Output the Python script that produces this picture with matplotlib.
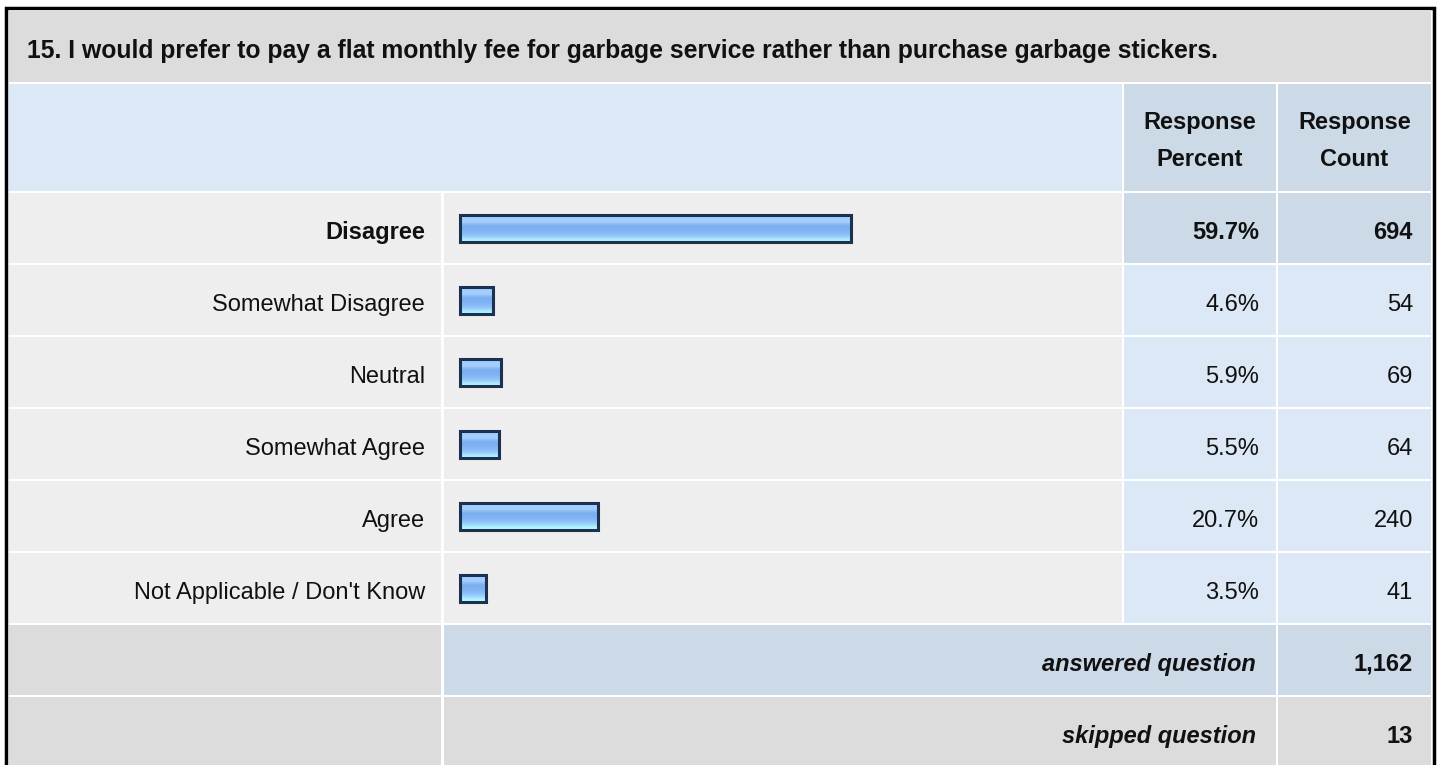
import matplotlib.pyplot as plt
import numpy as np
from matplotlib.patches import Rectangle
from matplotlib.colors import LinearSegmentedColormap

plt.rcParams['font.family'] = ['Liberation Sans', 'DejaVu Sans']

titulo = "15. I would prefer to pay a flat monthly fee for garbage service rather than purchase garbage stickers."
respuestas = ["Disagree", "Somewhat Disagree", "Neutral", "Somewhat Agree",
              "Agree", "Not Applicable / Don't Know"]
porcentajes = [59.7, 4.6, 5.9, 5.5, 20.7, 3.5]
conteos = [694, 54, 69, 64, 240, 41]
respondidas = 1162
omitidas = 13

W, H = 1440, 765
gris = "#dcdcdc"
gris_claro = "#eeeeee"
azul_claro = "#dce8f5"
azul = "#ccd9e6"
tinta = "#111111"
fs = 17

fig = plt.figure(figsize=(W / 100, H / 100), dpi=100)
ax = fig.add_axes([0, 0, 1, 1])
ax.set_xlim(0, W)
ax.set_ylim(H, 0)
ax.axis("off")


def celda(x0, x1, y0, y1, color):
    ax.add_patch(Rectangle((x0, y0), x1 - x0, y1 - y0, facecolor=color,
                           edgecolor="none", zorder=1))


def texto(x, y, s, ha="right", **kw):
    ax.text(x, y, s, fontsize=fs, ha=ha, va="baseline", color=tinta,
            zorder=3, **kw)


# columnas
c_lab = (9, 441)
c_bar = (444, 1122)
c_pct = (1124, 1276)
c_cnt = (1278, 1431)

# borde exterior
ax.add_patch(Rectangle((5.5, 7.5), 1428.5, 800, facecolor="white",
                       edgecolor="black", lw=2.5, zorder=0))

# titulo
celda(9, 1431, 10, 82, gris)
ax.text(27, 58, titulo, fontsize=17.8, fontweight="bold", va="baseline",
        ha="left", color=tinta, zorder=3)

# encabezado
celda(9, 1122, 84, 191, azul_claro)
celda(*c_pct, 84, 191, azul)
celda(*c_cnt, 84, 191, azul)
for cx, abajo in [((c_pct[0] + c_pct[1]) / 2, "Percent"),
                  ((c_cnt[0] + c_cnt[1]) / 2, "Count")]:
    texto(cx, 129, "Response", ha="center", fontweight="bold")
    texto(cx, 166, abajo, ha="center", fontweight="bold")

# degradado de barras
cmap = LinearSegmentedColormap.from_list("barra", [
    (0.0, "#9ccaff"), (0.25, "#a4d0ff"), (0.4, "#7aaef0"), (0.6, "#7fb3f2"),
    (0.75, "#92c3fa"), (0.9, "#a8e8ff"), (1.0, "#b4ffff")])
grad = np.linspace(0, 1, 64).reshape(-1, 1)

escala = 6.5
x_bar = 460
for i, (lab, p, n) in enumerate(zip(respuestas, porcentajes, conteos)):
    y0 = 193 + i * 72
    y1 = y0 + 70
    yc = (y0 + y1) / 2
    celda(*c_lab, y0, y1, gris_claro)
    celda(*c_bar, y0, y1, gris_claro)
    color_v = azul if i == 0 else azul_claro
    celda(*c_pct, y0, y1, color_v)
    celda(*c_cnt, y0, y1, color_v)
    peso = "bold" if i == 0 else "normal"
    texto(425, yc + 11, lab, fontweight=peso)
    texto(1259, yc + 11, f"{p:.1f}%", fontweight=peso)
    texto(1413, yc + 11, f"{n:,}", fontweight=peso)
    ancho = p * escala + 3
    b0, b1 = yc - 13.5, yc + 13.5
    ax.imshow(grad, cmap=cmap, aspect="auto", extent=(x_bar, x_bar + ancho, b1, b0),
              zorder=2, interpolation="nearest")
    ax.add_patch(Rectangle((x_bar, b0), ancho, b1 - b0, facecolor="none",
                           edgecolor="#1c3150", lw=2.2, zorder=3))

# respondidas / omitidas
y0 = 625
celda(*c_lab, y0, 695, gris)
celda(c_bar[0], c_pct[1], y0, 695, azul)
celda(*c_cnt, y0, 695, azul)
texto(1256, 671, "answered question", fontweight="bold", style="italic")
texto(1413, 671, f"{respondidas:,}", fontweight="bold")

y0 = 697
celda(*c_lab, y0, 770, gris)
celda(c_bar[0], c_pct[1], y0, 770, gris)
celda(*c_cnt, y0, 770, gris)
texto(1256, 743, "skipped question", fontweight="bold", style="italic")
texto(1413, 743, f"{omitidas:,}", fontweight="bold")

fig.savefig("out.png", dpi=100)
